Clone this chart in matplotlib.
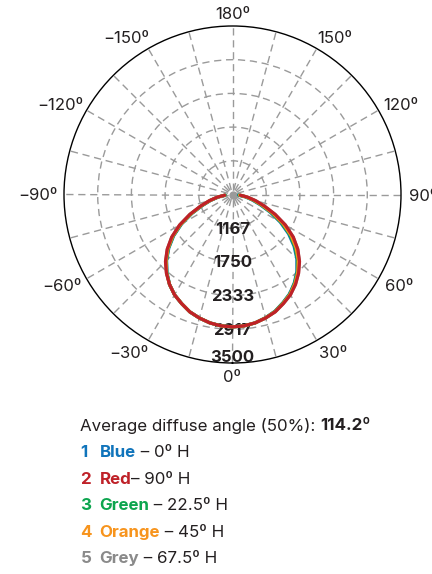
import numpy as np
import matplotlib
matplotlib.use("Agg")
import matplotlib.pyplot as plt

plt.rcParams['font.family'] = ['Inter', 'DejaVu Sans']
plt.rcParams['lines.scale_dashes'] = False

# ---------------- data ----------------
angles_deg = list(range(-90, 91, 5))

red_vals = [583, 722, 852, 1000, 1174, 1399, 1642, 1868, 2059, 2224, 2363, 2484, 2589, 2667, 2745, 2797, 2840, 2866,
            2875,
            2866, 2840, 2797, 2745, 2667, 2589, 2484, 2363, 2224, 2059, 1868, 1642, 1399, 1174, 1000, 852, 722, 583]
blue_vals = [583, 708, 830, 973, 1137, 1357, 1600, 1826, 2022, 2197, 2349, 2484, 2589, 2667, 2745, 2797, 2840, 2866,
             2875,
             2866, 2840, 2792, 2733, 2649, 2564, 2449, 2318, 2159, 1974, 1768, 1537, 1299, 1086, 928, 797, 687, 583]
green_vals = [583, 711, 835, 979, 1146, 1367, 1610, 1836, 2031, 2203, 2352, 2484, 2589, 2667, 2745, 2797, 2840, 2866,
              2875,
              2866, 2840, 2793, 2736, 2653, 2570, 2457, 2329, 2175, 1995, 1793, 1563, 1324, 1108, 946, 811, 696, 583]
orange_vals = [583, 716, 842, 987, 1157, 1380, 1623, 1849, 2042, 2211, 2357, 2484, 2589, 2667, 2745, 2797, 2840, 2866,
               2875,
               2866, 2840, 2795, 2740, 2659, 2577, 2468, 2342, 2194, 2021, 1823, 1595, 1354, 1134, 968, 827, 706, 583]
grey_vals = [583, 719, 849, 997, 1171, 1396, 1639, 1865, 2056, 2221, 2360, 2484, 2589, 2667, 2745, 2797, 2840, 2866,
             2875,
             2866, 2840, 2797, 2745, 2667, 2589, 2484, 2360, 2221, 2056, 1865, 1639, 1396, 1171, 997, 849, 719, 583]

r_ticks = [583.33, 1166.67, 1750.0, 2333.33, 2916.67, 3500.0]
r_tick_labels = ["", "1167", "1750", "2333", "2917", "3500"]

theta_label_angles = [0, 30, 60, 90, 120, 150, 180, -150, -120, -90, -60, -30]
theta_labels = ["0º", "30º", "60º", "90º", "120º", "150º", "180º",
                "\u2212150º", "\u2212120º", "\u221290º", "\u221260º", "\u221230º"]

avg_label = "Average diffuse angle (50%): "
avg_value = "114.2º"
legend_nums = ["1", "2", "3", "4", "5"]
legend_names = ["Blue", "Red", "Green", "Orange", "Grey"]
legend_desc = [" – 0º H", "– 90º H", " – 22.5º H", " – 45º H", " – 67.5º H"]

# ---------------- styling ----------------
C_BLUE = "#1074bb"
C_RED = "#bf2128"
C_GREEN = "#0ca54e"
C_ORANGE = "#f7941d"
C_GREY = "#8a8a8a"
C_TEXT = "#231f20"
legend_colors = [C_BLUE, C_RED, C_GREEN, C_ORANGE, C_GREY]

W, H = 432, 574
fig = plt.figure(figsize=(W / 100, H / 100), dpi=100)
cx, cy, R = 232.5, 194.5, 168.5
ax = fig.add_axes([(cx - R) / W, (H - cy - R) / H, 2 * R / W, 2 * R / H], projection='polar')
ax.set_theta_zero_location('S')
ax.set_theta_direction(1)
ax.set_rlim(r_ticks[0], r_ticks[-1])

ax.set_xticks(np.deg2rad(np.arange(0, 360, 15)))
ax.set_xticklabels([])
ax.set_yticks(r_ticks[1:-1])
ax.set_yticklabels([])
ax.tick_params(length=0)
ax.grid(True, color="#9a9a9a", linewidth=1.0, linestyle=(5.2, (5.2, 3.4)))
ax.spines['polar'].set_color('black')
ax.spines['polar'].set_linewidth(1.0)

th = np.deg2rad(angles_deg)
series = [(grey_vals, C_GREY), (blue_vals, C_BLUE), (green_vals, C_GREEN),
          (orange_vals, C_ORANGE), (red_vals, C_RED)]
for vals, col in series:
    ax.plot(th, vals, color=col, lw=2.3, zorder=4, solid_joinstyle='round', solid_capstyle='round')

ax.plot([0], [r_ticks[0]], 'o', color="#9a9a9a", ms=5, zorder=3)

# radial labels
for i, (rv, lab) in enumerate(zip(r_ticks, r_tick_labels)):
    if not lab:
        continue
    dy = 5 if i == len(r_ticks) - 1 else -1
    ax.annotate(lab, xy=(0, rv), xytext=(0, dy), textcoords='offset pixels', ha='center', va='center',
                fontsize=12, fontweight='bold', color=C_TEXT, zorder=2)

fig.canvas.draw()
renderer = fig.canvas.get_renderer()

# theta labels placed outside the circle
gap = 12
for t, lab in zip(theta_label_angles, theta_labels):
    rad = np.deg2rad(t)
    ann = ax.annotate(lab, xy=(rad, r_ticks[-1]), xytext=(0, 0), textcoords='offset pixels',
                      ha='center', va='center', fontsize=12, color=C_TEXT, annotation_clip=False)
    bb = ann.get_window_extent(renderer)
    ux, uy = np.sin(rad), -np.cos(rad)
    sx = 0 if abs(ux) < 0.1 else np.sign(ux)
    dx = ux * gap + sx * 0.35 * bb.width
    dy = uy * (gap + 1) - 1.5
    ann.xyann = (dx, dy)

# legend block
FS = 12.2


def put(x_px, y_px, s, color, weight):
    t = fig.text(x_px / W, 1 - y_px / H, s, color=color, fontweight=weight, fontsize=FS,
                 ha='left', va='center')
    return x_px + t.get_window_extent(renderer).width


x = put(80.5, 426, avg_label, C_TEXT, 'normal')
put(x, 426, avg_value, C_TEXT, 'bold')

for i in range(5):
    y = 452.5 + i * 26.6
    put(80.5, y, legend_nums[i], legend_colors[i], 'bold')
    x = put(99.5, y, legend_names[i], legend_colors[i], 'bold')
    put(x, y, legend_desc[i], C_TEXT, 'normal')

fig.savefig("out.png", dpi=100)
